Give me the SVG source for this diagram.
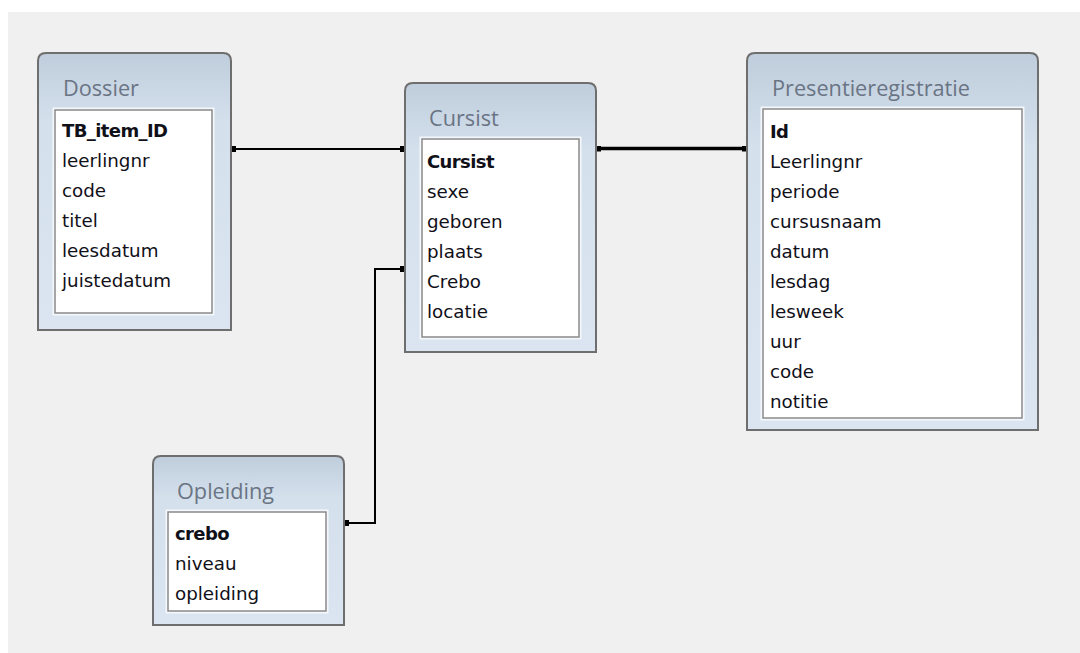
<svg xmlns="http://www.w3.org/2000/svg" width="1080" height="653" viewBox="0 0 1080 653">
<defs>
<linearGradient id="hdr" x1="0" y1="0" x2="0" y2="1">
<stop offset="0" stop-color="#bfcddc"/>
<stop offset="0.25" stop-color="#d4e0ec"/>
<stop offset="1" stop-color="#dae5f1"/>
</linearGradient>
<marker id="sq" viewBox="0 0 6 6" refX="3" refY="3" markerWidth="6" markerHeight="6" markerUnits="userSpaceOnUse"><rect width="6" height="6" fill="#000"/></marker>
</defs>
<style>
.box{fill:url(#hdr);stroke:#6e6e6e;stroke-width:2}
.list{fill:#fff;stroke:#8a8a8a;stroke-width:1.5}
.pad{fill:none;stroke:#f4f7fb;stroke-width:3}
.title{font-family:"Open Sans","Noto Sans",sans-serif;font-size:21.7px;fill:#6a7484}
.row{font-family:"DejaVu Sans",sans-serif;font-size:18.3px;fill:#101018}
.key{font-family:"DejaVu Sans",sans-serif;font-size:18px;font-weight:bold;fill:#101018;letter-spacing:-0.6px}
.link{fill:none;stroke:#000;stroke-width:2;marker-start:url(#sq);marker-end:url(#sq)}
.thick{stroke-width:3.5}
</style>
<rect x="0" y="0" width="1080" height="653" fill="#ffffff"/>
<rect x="8" y="12" width="1072" height="641" fill="#f0f0f0"/>
<g id="connectors">
<path class="link" d="M233 149 H403"/>
<path class="link thick" d="M598 148.5 H745"/>
<path class="link" d="M403 269 H375 V523 H346"/>
</g>
<g id="dossier">
<path class="box" d="M38 330 V61 Q38 53 46 53 H223 Q231 53 231 61 V330 Z"/>
<rect class="pad" x="54" y="109" width="159" height="205"/>
<rect class="list" x="55" y="110" width="157" height="203"/>
<text class="title" x="63" y="96">Dossier</text>
<text class="key" x="62" y="137">TB_item_ID</text>
<text class="row" x="62" y="167">leerlingnr</text>
<text class="row" x="62" y="197">code</text>
<text class="row" x="62" y="227">titel</text>
<text class="row" x="62" y="257">leesdatum</text>
<text class="row" x="62" y="287">juistedatum</text>
</g>
<g id="cursist">
<path class="box" d="M405 352 V91 Q405 83 413 83 H588 Q596 83 596 91 V352 Z"/>
<rect class="pad" x="421" y="138" width="159" height="200"/>
<rect class="list" x="422" y="139" width="157" height="198"/>
<text class="title" x="429" y="126">Cursist</text>
<text class="key" x="427" y="168">Cursist</text>
<text class="row" x="427" y="198">sexe</text>
<text class="row" x="427" y="228">geboren</text>
<text class="row" x="427" y="258">plaats</text>
<text class="row" x="427" y="288">Crebo</text>
<text class="row" x="427" y="318">locatie</text>
</g>
<g id="presentieregistratie">
<path class="box" d="M747 430 V61 Q747 53 755 53 H1030 Q1038 53 1038 61 V430 Z"/>
<rect class="pad" x="762" y="108" width="261" height="311"/>
<rect class="list" x="763" y="109" width="259" height="309"/>
<text class="title" x="772" y="96">Presentieregistratie</text>
<text class="key" x="770" y="138">Id</text>
<text class="row" x="770" y="168">Leerlingnr</text>
<text class="row" x="770" y="198">periode</text>
<text class="row" x="770" y="228">cursusnaam</text>
<text class="row" x="770" y="258">datum</text>
<text class="row" x="770" y="288">lesdag</text>
<text class="row" x="770" y="318">lesweek</text>
<text class="row" x="770" y="348">uur</text>
<text class="row" x="770" y="378">code</text>
<text class="row" x="770" y="408">notitie</text>
</g>
<g id="opleiding">
<path class="box" d="M153 625 V464 Q153 456 161 456 H336 Q344 456 344 464 V625 Z"/>
<rect class="pad" x="167" y="511" width="160" height="101"/>
<rect class="list" x="168" y="512" width="158" height="99"/>
<text class="title" x="177" y="499">Opleiding</text>
<text class="key" x="175" y="540">crebo</text>
<text class="row" x="175" y="570">niveau</text>
<text class="row" x="175" y="600">opleiding</text>
</g>
</svg>
